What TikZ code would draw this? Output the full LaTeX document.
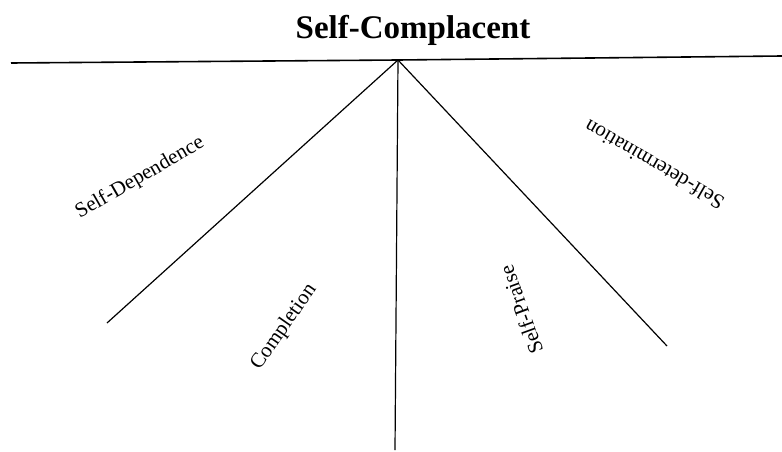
\documentclass[tikz,border=0pt]{standalone}
\usepackage{fontspec}
\setmainfont{Liberation Serif}
\tikzset{
	branch/.style={black, line width=1.2pt},
	lbl/.style={inner sep=0pt, font=\fontsize{21}{25}\selectfont},
}
\begin{document}
\begin{tikzpicture}[x=1pt, y=1pt]
		\useasboundingbox[fill=white] (0, 0) rectangle (782, 451);
		\node[inner sep=0pt, anchor=base, font=\fontsize{33}{38}\selectfont\bfseries] (title) at (413, 412) {Self-Complacent};
		\coordinate (apex) at (398, 391);
		\coordinate (barL) at (11, 388);
		\coordinate (barR) at (782, 395);
		\coordinate (legL) at (107, 128);
		\coordinate (legM) at (395, 1);
		\coordinate (legR) at (667, 105);
		\draw[branch, line width=1.6pt] (barL) -- (apex) -- (barR);
		\draw[branch] (apex) -- (legL);
		\draw[branch] (apex) -- (legM);
		\draw[branch] (apex) -- (legR);
		\node[lbl, rotate=30] (dep) at (140, 273) {Self-Dependence};
		\node[lbl, rotate=55] (comp) at (284, 124) {Completion};
		\node[lbl, rotate=110] (praise) at (521, 141) {Self-Praise};
		\node[lbl, rotate=150] (determ) at (654, 286) {Self-determination};
	\end{tikzpicture}
\end{document}
